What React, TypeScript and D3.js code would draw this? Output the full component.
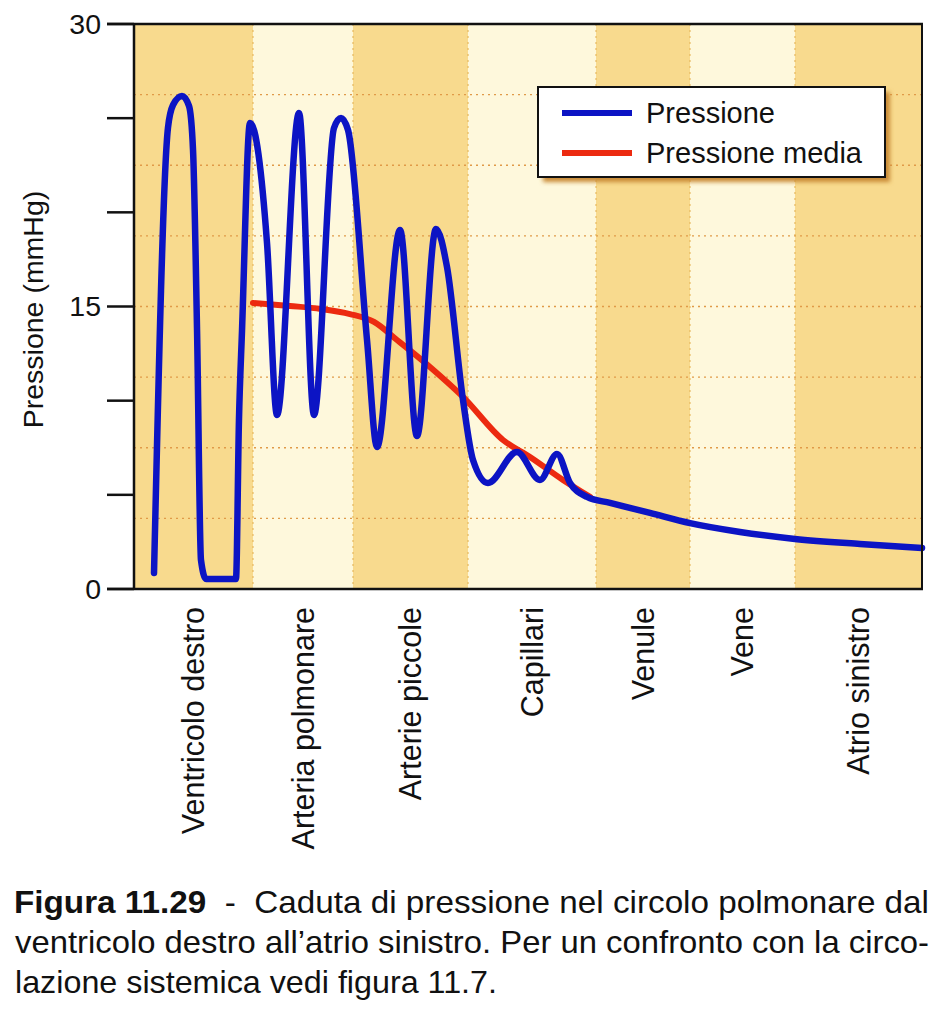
import React from 'react';
import * as d3 from 'd3';

// ---- Data ----
const categories = [
  'Ventricolo destro',
  'Arteria polmonare',
  'Arterie piccole',
  'Capillari',
  'Venule',
  'Vene',
  'Atrio sinistro',
];
// column boundaries along the circuit (0-100 position units)
const columnEdges = [0, 15.1, 27.79, 42.39, 58.63, 70.56, 83.88, 100];
const yTicks = [0, 5, 10, 15, 20, 25, 30];
const yTickLabels = ['0', '', '', '15', '', '', '30'];
const gridValues = [3.75, 7.5, 11.25, 15, 18.75, 22.5, 26.25];

// Pressione (blue) – position along circuit, mmHg
const pressionePos = [
  2.54, 4.31, 4.95, 6.09, 6.98, 7.49, 8.0, 8.5, 9.14, 12.94, 13.32, 13.71, 14.72,
  16.88, 18.15, 20.94, 22.84, 25.38, 26.27, 27.16, 29.57, 30.84, 33.76, 35.91,
  38.32, 39.72, 41.75, 43.02, 44.92, 48.6, 51.52, 53.68, 55.33, 57.49, 60.41,
  65.48, 70.56, 76.9, 83.88, 92.13, 100,
];
const pressioneVal = [
  0.85, 24.48, 25.7, 26.18, 25.65, 23.31, 13.75, 1.54, 0.53, 0.53, 8.97, 13.75, 24.75,
  18.37, 9.24, 25.28, 9.24, 24.48, 25.01, 24.37, 13.22, 7.54, 19.06, 8.12,
  19.12, 17.1, 10.04, 6.85, 5.63, 7.27, 5.79, 7.17, 5.63, 4.89, 4.57,
  4.04, 3.5, 3.03, 2.66, 2.39, 2.18,
];

// Pressione media (red)
const mediaPos = [15.1, 19.8, 23.73, 27.41, 30.46, 33.38, 37.56, 41.75, 46.83, 50.25, 54.44, 57.87];
const mediaVal = [15.19, 15.03, 14.87, 14.6, 14.18, 13.22, 11.79, 10.2, 7.91, 7.01, 5.79, 4.89];

const legendItems = [
  { label: 'Pressione', color: '#0c14c4' },
  { label: 'Pressione media', color: '#ec2a10' },
];

const captionBold = 'Figura 11.29';
const captionLines = [
  '  -  Caduta di pressione nel circolo polmonare dal',
  'ventricolo destro all\u2019atrio sinistro. Per un confronto con la circo-',
  'lazione sistemica vedi figura 11.7.',
];

// ---- Layout ----
const W = 942;
const H = 1011;
const left = 134;
const right = 922;
const top = 24;
const bottom = 589;

const FONT = "'Liberation Sans', Arial, Helvetica, sans-serif";

export default function App() {
  const x = d3.scaleLinear().domain([0, 100]).range([left, right]);
  const y = d3.scaleLinear().domain([0, 30]).range([bottom, top]);

  const line = d3
    .line<[number, number]>()
    .x((d) => x(d[0]))
    .y((d) => y(d[1]))
    .curve(d3.curveMonotoneX);

  const bluePts: [number, number][] = pressionePos.map((p, i) => [p, pressioneVal[i]]);
  const redPts: [number, number][] = mediaPos.map((p, i) => [p, mediaVal[i]]);

  const colFill = (i: number) => (i % 2 === 0 ? '#f8da8e' : '#fef8dc');

  const lgX = 538;
  const lgY = 87;
  const lgW = 347;
  const lgH = 90;

  return (
    <svg
      width={W}
      height={H}
      style={{ position: 'absolute', left: 0, top: 0, background: '#fff' }}
      fontFamily={FONT}
    >
      <defs>
        <filter id="shadow" x="-10%" y="-10%" width="130%" height="140%">
          <feGaussianBlur stdDeviation="2" />
        </filter>
      </defs>
      <rect x={0} y={0} width={W} height={H} fill="#fff" />

      {/* column backgrounds */}
      {categories.map((c, i) => (
        <rect
          key={c}
          x={x(columnEdges[i])}
          y={top}
          width={x(columnEdges[i + 1]) - x(columnEdges[i])}
          height={bottom - top}
          fill={colFill(i)}
        />
      ))}

      {/* dotted grid */}
      {gridValues.map((g) => (
        <line
          key={'g' + g}
          x1={left}
          x2={right}
          y1={y(g)}
          y2={y(g)}
          stroke="#e09a48"
          strokeWidth={1.3}
          strokeDasharray="2 4"
        />
      ))}
      {columnEdges.slice(1, -1).map((e) => (
        <line
          key={'v' + e}
          x1={x(e)}
          x2={x(e)}
          y1={top}
          y2={bottom}
          stroke="#e3b050"
          strokeWidth={1}
          strokeDasharray="2 4"
        />
      ))}

      {/* series */}
      <path d={line(redPts) || ''} fill="none" stroke="#ec2a10" strokeWidth={6} strokeLinejoin="round" strokeLinecap="round" />
      <path d={line(bluePts) || ''} fill="none" stroke="#0c14c4" strokeWidth={6.5} strokeLinejoin="round" strokeLinecap="round" />

      {/* frame */}
      <line x1={107} x2={right + 1} y1={top} y2={top} stroke="#111" strokeWidth={2.5} />
      <line x1={107} x2={right + 1} y1={bottom} y2={bottom} stroke="#111" strokeWidth={2.5} />
      <line x1={left} x2={left} y1={top} y2={bottom} stroke="#111" strokeWidth={2.5} />
      <line x1={right} x2={right} y1={top} y2={bottom} stroke="#111" strokeWidth={2} />

      {/* y ticks */}
      {yTicks.map((t, i) => (
        <g key={'t' + t}>
          <line x1={107} x2={left} y1={y(t)} y2={y(t)} stroke="#111" strokeWidth={2.5} />
          {yTickLabels[i] && (
            <text x={101} y={y(t)} dy="0.35em" textAnchor="end" fontSize={28.5} fill="#111">
              {yTickLabels[i]}
            </text>
          )}
        </g>
      ))}

      <text
        transform={`translate(33, ${(top + bottom) / 2 + 3}) rotate(-90)`}
        textAnchor="middle"
        dy="0.35em"
        fontSize={28.5}
        fill="#111"
      >
        Pressione (mmHg)
      </text>

      {/* category labels */}
      {categories.map((c, i) => {
        const cx = x((columnEdges[i] + columnEdges[i + 1]) / 2);
        return (
          <text
            key={'c' + c}
            transform={`translate(${cx}, 607) rotate(-90)`}
            textAnchor="end"
            dy="0.35em"
            fontSize={30.5}
            fill="#111"
          >
            {c}
          </text>
        );
      })}

      {/* legend */}
      <rect x={lgX + 5} y={lgY + 5} width={lgW} height={lgH} fill="#c98a36" filter="url(#shadow)" />
      <rect x={lgX} y={lgY} width={lgW} height={lgH} fill="#fff" stroke="#111" strokeWidth={2} />
      {legendItems.map((it, i) => (
        <g key={it.label}>
          <line
            x1={lgX + 24}
            x2={lgX + 94}
            y1={lgY + 26 + i * 40}
            y2={lgY + 26 + i * 40}
            stroke={it.color}
            strokeWidth={6}
          />
          <text x={lgX + 108} y={lgY + 26 + i * 40} dy="0.35em" fontSize={29} fill="#111">
            {it.label}
          </text>
        </g>
      ))}

      {/* caption */}
      <text x={14} y={913} fontSize={32} fill="#111" textLength={915} lengthAdjust="spacingAndGlyphs">
        <tspan fontWeight="bold">{captionBold}</tspan>
        <tspan xmlSpace="preserve" style={{ whiteSpace: 'pre' }}>{captionLines[0]}</tspan>
      </text>
      <text x={15} y={953} fontSize={32} fill="#111" textLength={914} lengthAdjust="spacingAndGlyphs">
        {captionLines[1]}
      </text>
      <text x={15} y={993} fontSize={32} fill="#111" textLength={482} lengthAdjust="spacingAndGlyphs">
        {captionLines[2]}
      </text>
    </svg>
  );
}
